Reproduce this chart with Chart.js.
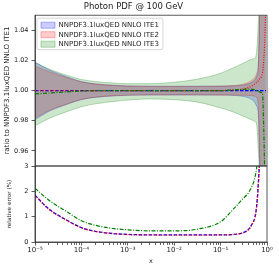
<!DOCTYPE html>
<html>
<head>
<meta charset="utf-8">
<script src="https://cdn.jsdelivr.net/npm/chart.js@4.4.1/dist/chart.umd.min.js"></script>
<style>
  html, body { margin: 0; padding: 0; background: #fff; }
  #wrap { position: relative; width: 279px; height: 269px; overflow: hidden; }
  #wrap canvas { position: absolute; left: 0; }
  #ratioChart { top: 0; }
  #errChart { top: 156px; }
</style>
</head>
<body>
<div id="wrap">
  <canvas id="ratioChart" width="279" height="175"></canvas>
  <canvas id="errChart" width="279" height="113"></canvas>
</div>
<script>
/* ===== data ===== */
const xVals = [1e-5, 2e-5, 5e-5, 1e-4, 2e-4, 5e-4, 1e-3, 3e-3, 1e-2, 3e-2, 0.1, 0.2, 0.3, 0.4, 0.5, 0.55, 0.6, 0.65, 0.7, 0.75, 0.8, 0.85, 0.9, 0.95];

// upper panel: ratio bands and central values
const ite1Up  = [1.0190, 1.0138, 1.0090, 1.0060, 1.0045, 1.0035, 1.0031, 1.0029, 1.0029, 1.0029, 1.0030, 1.0032, 1.0036, 1.0045, 1.0060, 1.0072, 1.0095, 1.016, 1.055, 1.08, 1.11, 1.15, 1.20, 1.30];
const ite1Lo  = [0.9808, 0.9862, 0.9910, 0.9940, 0.9955, 0.9965, 0.9969, 0.9971, 0.9971, 0.9971, 0.9970, 0.9968, 0.9962, 0.9952, 0.9935, 0.9920, 0.9895, 0.984, 0.945, 0.92, 0.89, 0.85, 0.80, 0.70];
const ite1Cen = [1.0, 1.0, 1.0, 1.0, 1.0, 1.0, 1.0, 1.0, 1.0, 1.0, 1.0, 1.0, 1.0, 1.0, 1.0, 1.0, 1.0, 1.0, 1.0, 1.0, 1.0, 1.0, 1.0, 1.0];

const ite2Up  = [1.0162, 1.0125, 1.0085, 1.0057, 1.0043, 1.0034, 1.0030, 1.0028, 1.0028, 1.0028, 1.0029, 1.0034, 1.0042, 1.0055, 1.0075, 1.0090, 1.0115, 1.018, 1.06, 1.09, 1.12, 1.16, 1.22, 1.32];
const ite2Lo  = [0.9818, 0.9868, 0.9913, 0.9942, 0.9957, 0.9966, 0.9970, 0.9972, 0.9972, 0.9972, 0.9971, 0.9970, 0.9969, 0.9968, 0.9965, 0.9962, 0.9955, 0.990, 0.955, 0.93, 0.90, 0.86, 0.82, 0.72];
const ite2Cen = [1.0, 1.0, 1.0, 1.0, 1.0, 1.0, 1.0, 1.0, 1.0, 1.0, 1.0, 1.0005, 1.001, 1.002, 1.0035, 1.0045, 1.0055, 1.0065, 1.008, 1.009, 1.012, 1.02, 1.035, 1.06];

const ite3Up  = [1.0185, 1.0143, 1.0100, 1.0074, 1.0060, 1.0050, 1.0046, 1.0046, 1.0055, 1.0075, 1.0115, 1.0155, 1.0180, 1.0200, 1.0210, 1.0215, 1.0265, 1.045, 1.07, 1.10, 1.13, 1.16, 1.20, 1.25];
const ite3Lo  = [0.9767, 0.9815, 0.9862, 0.9893, 0.9912, 0.9928, 0.9937, 0.9945, 0.9940, 0.9925, 0.9885, 0.9855, 0.9832, 0.9815, 0.9802, 0.9795, 0.9770, 0.961, 0.94, 0.91, 0.88, 0.85, 0.80, 0.75];
const ite3Cen = [0.9978, 0.9984, 0.9992, 0.9997, 0.9999, 1.0, 1.0, 1.0, 1.0, 1.0, 1.0, 1.0005, 1.0008, 1.001, 1.0008, 1.0005, 1.0, 0.9995, 0.999, 0.9988, 0.9985, 0.975, 0.94, 0.90];

// lower panel: relative error (%)
const errIte1 = [1.85, 1.30, 0.85, 0.57, 0.42, 0.33, 0.30, 0.28, 0.28, 0.28, 0.28, 0.30, 0.36, 0.50, 0.78, 0.98, 1.45, 2.30, 3.6, 6.0, 9.0, 13, 20, 30];
const errIte2 = [1.83, 1.29, 0.84, 0.56, 0.42, 0.33, 0.29, 0.28, 0.27, 0.27, 0.28, 0.30, 0.36, 0.49, 0.76, 0.96, 1.42, 2.25, 3.5, 5.8, 8.8, 12.5, 19, 29];
const errIte3 = [2.12, 1.65, 1.18, 0.84, 0.66, 0.53, 0.48, 0.44, 0.44, 0.50, 0.80, 1.35, 1.70, 1.95, 2.30, 2.55, 2.95, 3.6, 4.5, 6.0, 8.0, 10, 14, 20];

const names = ['NNPDF3.1luxQED NNLO ITE1', 'NNPDF3.1luxQED NNLO ITE2', 'NNPDF3.1luxQED NNLO ITE3'];
const yTicksRatio = [0.96, 0.98, 1.00, 1.02, 1.04];
const yTicksErr = [0, 1, 2, 3];
const xDecades = [1e-5, 1e-4, 1e-3, 1e-2, 1e-1, 1];
const xTickLabels = ['10⁻⁵', '10⁻⁴', '10⁻³', '10⁻²', '10⁻¹', '10⁰'];

/* ===== style ===== */
Chart.defaults.font.family = "'DejaVu Sans', sans-serif";
Chart.defaults.color = '#222';
Chart.defaults.animation = false;

const C = {
    blue: '#0000ff', red: '#ff0000', green: '#008000',
    blueBg: 'rgba(0,0,255,0.2)', redBg: 'rgba(255,0,0,0.2)', greenBg: 'rgba(0,128,0,0.2)',
    blueEdge: 'rgba(0,0,255,0.35)', redEdge: 'rgba(255,0,0,0.35)', greenEdge: 'rgba(0,128,0,0.35)',
    axis: '#333'
};
const DASH = [3.5, 1.5], DOT = [1, 1.5], DASHDOT = [4, 1.5, 1, 1.5];

// minor tick positions on the log axis
const xTickVals = [];
xDecades.forEach((d, i) => {
    xTickVals.push(d);
    if (i < xDecades.length - 1) for (let k = 2; k <= 9; k++) xTickVals.push(k * d);
});

const pts = ys => xVals.map((x, i) => ({ x, y: ys[i] }));
const line = { pointRadius: 0, cubicInterpolationMode: 'monotone' };

const frame = {
    id: 'frame',
    afterDraw(chart) {
        const { ctx, chartArea: a } = chart;
        ctx.save();
        ctx.strokeStyle = C.axis;
        ctx.lineWidth = 0.8;
        ctx.strokeRect(a.left, a.top, a.right - a.left, a.bottom - a.top);
        ctx.restore();
    }
};

// place the in-axes legend and give it a matplotlib-like box
const legendShift = { x: 3.5, y: 4 };
const legendBox = {
    id: 'legendBox',
    afterLayout(chart) {
        chart.legend.left = chart.chartArea.left + legendShift.x;
        chart.legend.top = chart.chartArea.top + legendShift.y;
    },
    beforeDraw(chart) {
        const hb = chart.legend.legendHitBoxes;
        if (!hb || !hb.length) return;
        const l = Math.min(...hb.map(b => b.left)) - 4;
        const t = Math.min(...hb.map(b => b.top)) - 3.5;
        const r = Math.max(...hb.map(b => b.left + b.width)) + 4;
        const b = Math.max(...hb.map(b => b.top + b.height)) + 2;
        const ctx = chart.ctx;
        ctx.save();
        ctx.fillStyle = 'rgba(255,255,255,0.8)';
        ctx.strokeStyle = '#cccccc';
        ctx.lineWidth = 0.8;
        ctx.beginPath();
        ctx.roundRect(l, t, r - l, b - t, 2);
        ctx.fill();
        ctx.stroke();
        ctx.restore();
    }
};

/* ---- upper panel: ratio ---- */
new Chart(document.getElementById('ratioChart'), {
    type: 'line',
    data: {
        datasets: [
            { ...line, label: names[0], data: pts(ite1Up), borderColor: C.blueEdge, backgroundColor: C.blueBg, borderWidth: 0.8, fill: '+1', order: 9 },
            { ...line, label: '', data: pts(ite1Lo), borderColor: C.blueEdge, backgroundColor: C.blueBg, borderWidth: 0.8, fill: false, order: 8 },
            { ...line, label: names[1], data: pts(ite2Up), borderColor: C.redEdge, backgroundColor: C.redBg, borderWidth: 0.8, fill: '+1', order: 7 },
            { ...line, label: '', data: pts(ite2Lo), borderColor: C.redEdge, backgroundColor: C.redBg, borderWidth: 0.8, fill: false, order: 6 },
            { ...line, label: names[2], data: pts(ite3Up), borderColor: C.greenEdge, backgroundColor: C.greenBg, borderWidth: 0.8, fill: '+1', order: 5 },
            { ...line, label: '', data: pts(ite3Lo), borderColor: C.greenEdge, backgroundColor: C.greenBg, borderWidth: 0.8, fill: false, order: 4 },
            { ...line, label: 'c1', data: pts(ite1Cen), borderColor: C.blue, borderWidth: 1.2, borderDash: DASH, fill: false, order: 3 },
            { ...line, label: 'c2', data: pts(ite2Cen), borderColor: C.red, borderWidth: 1.2, borderDash: DOT, fill: false, order: 2 },
            { ...line, label: 'c3', data: pts(ite3Cen), borderColor: C.green, borderWidth: 1.2, borderDash: DASHDOT, fill: false, order: 1 }
        ]
    },
    options: {
        responsive: false,
        layout: { padding: { left: 0, right: 12, top: 0, bottom: 9 } },
        plugins: {
            title: { display: true, text: 'Photon PDF @ 100 GeV', font: { size: 8.5, weight: 'normal' }, color: '#222', padding: { top: 2, bottom: 3 } },
            legend: {
                position: 'chartArea', align: 'start',
                labels: {
                    boxWidth: 14, boxHeight: 6, padding: 2.5, font: { size: 7 }, color: '#222',
                    filter: item => names.includes(item.text),
                    sort: (a, b) => a.datasetIndex - b.datasetIndex
                }
            },
            tooltip: { enabled: false }
        },
        scales: {
            x: { type: 'logarithmic', min: 1e-5, max: 1, display: false },
            y: {
                min: 0.95, max: 1.05,
                afterBuildTicks: s => { s.ticks = yTicksRatio.map(v => ({ value: v })); },
                afterFit: s => { s.width = 35; },
                ticks: { callback: v => v.toFixed(2), font: { size: 6.5 }, padding: 3, color: '#222' },
                grid: { drawOnChartArea: false, tickLength: 3.5, tickColor: C.axis, tickWidth: 0.8 },
                border: { color: C.axis, width: 0.8 },
                title: { display: true, text: 'ratio to NNPDF3.1luxQED NNLO ITE1', font: { size: 7 }, color: '#222', padding: { top: 2.5, bottom: 0 } }
            }
        }
    },
    plugins: [legendBox, frame]
});

/* ---- lower panel: relative error ---- */
new Chart(document.getElementById('errChart'), {
    type: 'line',
    data: {
        datasets: [
            { ...line, label: names[0], data: pts(errIte1), borderColor: C.blue, borderWidth: 1.3, borderDash: DASH, fill: false, order: 3 },
            { ...line, label: names[1], data: pts(errIte2), borderColor: C.red, borderWidth: 1.3, borderDash: DOT, fill: false, order: 2 },
            { ...line, label: names[2], data: pts(errIte3), borderColor: C.green, borderWidth: 1.2, borderDash: DASHDOT, fill: false, order: 1 }
        ]
    },
    options: {
        responsive: false,
        layout: { padding: { left: 0, right: 12, top: 10, bottom: 4 } },
        plugins: { legend: { display: false }, title: { display: false }, tooltip: { enabled: false } },
        scales: {
            x: {
                type: 'logarithmic', min: 1e-5, max: 1,
                afterBuildTicks: s => { s.ticks = xTickVals.map(v => ({ value: v })); },
                afterFit: s => { s.height = 23; },
                ticks: {
                    autoSkip: false, maxRotation: 0, font: { size: 7 }, padding: 0.5, color: '#222',
                    callback: v => { const i = xDecades.indexOf(v); return i >= 0 ? xTickLabels[i] : ''; }
                },
                grid: {
                    drawOnChartArea: false, tickLength: 3.5, tickWidth: 0.8, tickColor: C.axis,
                    tickBorderDash: ctx => (ctx.tick && xDecades.includes(ctx.tick.value)) ? [] : [2, 10]
                },
                border: { color: C.axis, width: 0.8 },
                title: { display: true, text: 'x', font: { size: 6.5 }, color: '#222', padding: { top: 2, bottom: 0 } }
            },
            y: {
                min: 0, max: 3,
                afterBuildTicks: s => { s.ticks = yTicksErr.map(v => ({ value: v })); },
                afterFit: s => { s.width = 35; },
                ticks: { callback: v => String(v), font: { size: 6.5 }, padding: 3, color: '#222' },
                grid: { drawOnChartArea: false, tickLength: 3.5, tickColor: C.axis, tickWidth: 0.8 },
                border: { color: C.axis, width: 0.8 },
                title: { display: true, text: 'relative error (%)', font: { size: 5.7 }, color: '#222', padding: { top: 6.5, bottom: 0 } }
            }
        }
    },
    plugins: [frame]
});
</script>
</body>
</html>
